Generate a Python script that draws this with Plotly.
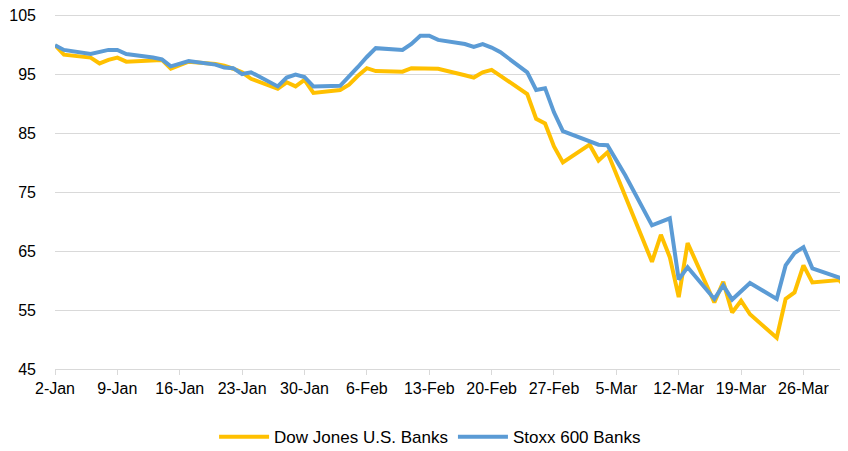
import plotly.graph_objects as go

dates = [
    "2020-01-02", "2020-01-03", "2020-01-06", "2020-01-07", "2020-01-08", "2020-01-09", "2020-01-10",
    "2020-01-13", "2020-01-14", "2020-01-15", "2020-01-16", "2020-01-17", "2020-01-20", "2020-01-21",
    "2020-01-22", "2020-01-23", "2020-01-24", "2020-01-27", "2020-01-28", "2020-01-29", "2020-01-30",
    "2020-01-31",
    "2020-02-03", "2020-02-04", "2020-02-05", "2020-02-06", "2020-02-07", "2020-02-10", "2020-02-11",
    "2020-02-12", "2020-02-13", "2020-02-14", "2020-02-17", "2020-02-18", "2020-02-19", "2020-02-20",
    "2020-02-21", "2020-02-24", "2020-02-25", "2020-02-26", "2020-02-27", "2020-02-28",
    "2020-03-02", "2020-03-03", "2020-03-04", "2020-03-05", "2020-03-06", "2020-03-09", "2020-03-10",
    "2020-03-11", "2020-03-12", "2020-03-13", "2020-03-16", "2020-03-17", "2020-03-18", "2020-03-19",
    "2020-03-20", "2020-03-23", "2020-03-24", "2020-03-25", "2020-03-26", "2020-03-27", "2020-03-30",
    "2020-03-31",
]

dow_jones_banks = [
    100.0, 98.4, 97.9, 96.9, 97.5, 97.9, 97.2, 97.4, 97.5, 96.0, 96.6, 97.2, 96.8, 96.5, 96.0, 95.4,
    94.3, 92.6, 93.7, 93.0, 94.1, 91.9,
    92.4, 93.3, 94.8, 96.1, 95.6, 95.5, 96.1, 96.1, 96.1, 96.0, 94.9, 94.5, 95.4, 95.8, 94.8, 91.7,
    87.5, 86.7, 82.8, 80.1,
    83.1, 80.4, 81.8, 78.0, 74.3, 63.2, 67.8, 64.0, 57.2, 66.4, 56.3, 59.8, 54.6, 56.6, 54.3, 50.3,
    56.9, 58.0, 62.6, 59.7, 60.1, 58.5,
]

stoxx_600_banks = [
    100.0, 99.2, 98.5, 98.9, 99.2, 99.2, 98.5, 97.9, 97.6, 96.4, 96.8, 97.3, 96.7, 96.2, 96.1, 95.1,
    95.4, 93.0, 94.5, 95.0, 94.6, 93.0,
    93.1, 94.6, 96.3, 98.0, 99.5, 99.2, 100.2, 101.6, 101.6, 100.9, 100.2, 99.7, 100.2, 99.6, 98.8,
    95.4, 92.4, 92.7, 88.6, 85.4,
    83.8, 83.1, 83.0, 80.6, 77.9, 69.4, 70.0, 70.6, 60.2, 62.3, 56.9, 59.2, 56.8, 58.2, 59.6, 56.9,
    62.6, 64.7, 65.7, 62.1, 60.5, 60.0,
]

y_ticks = [45, 55, 65, 75, 85, 95, 105]

font = "Liberation Sans Narrow, Liberation Sans, Arial, sans-serif"

fig = go.Figure()
fig.add_trace(go.Scatter(x=dates, y=dow_jones_banks, mode="lines", name="Dow Jones U.S. Banks",
                         line=dict(color="#FFC000", width=4)))
fig.add_trace(go.Scatter(x=dates, y=stoxx_600_banks, mode="lines", name="Stoxx 600 Banks",
                         line=dict(color="#5B9BD5", width=4)))

# page body has an 8px margin, so the figure is sized to fit inside the window
fig.update_layout(
    width=840, height=443,
    margin=dict(l=47, r=0, t=6, b=82, autoexpand=False),
    paper_bgcolor="white", plot_bgcolor="white",
    font=dict(family=font, size=15, color="#000000"),
    showlegend=True,
    legend=dict(orientation="h", x=0.473, xanchor="center", y=-0.192, yanchor="middle",
                font=dict(size=17), itemwidth=50, traceorder="normal"),
)
fig.update_xaxes(
    type="date", range=["2020-01-02", "2020-03-31"],
    tick0="2020-01-02", dtick=7 * 86400000, tickformat="%-d-%b",
    showgrid=False, showline=True, linecolor="#d9d9d9", linewidth=1,
    ticks="outside", ticklen=5, tickcolor="#d9d9d9",
    tickfont=dict(size=16), zeroline=False, automargin=False,
    ticklabeloverflow="allow",
)
# a little headroom so the 105 gridline is drawn
fig.update_yaxes(
    range=[45, 105.3], tickvals=y_ticks,
    showgrid=True, gridcolor="#d9d9d9", gridwidth=1,
    showline=False, zeroline=False, ticks="",
    tickfont=dict(size=16), ticklabelstandoff=18, automargin=False,
    ticklabeloverflow="allow",
)

fig.write_html("out.html")
